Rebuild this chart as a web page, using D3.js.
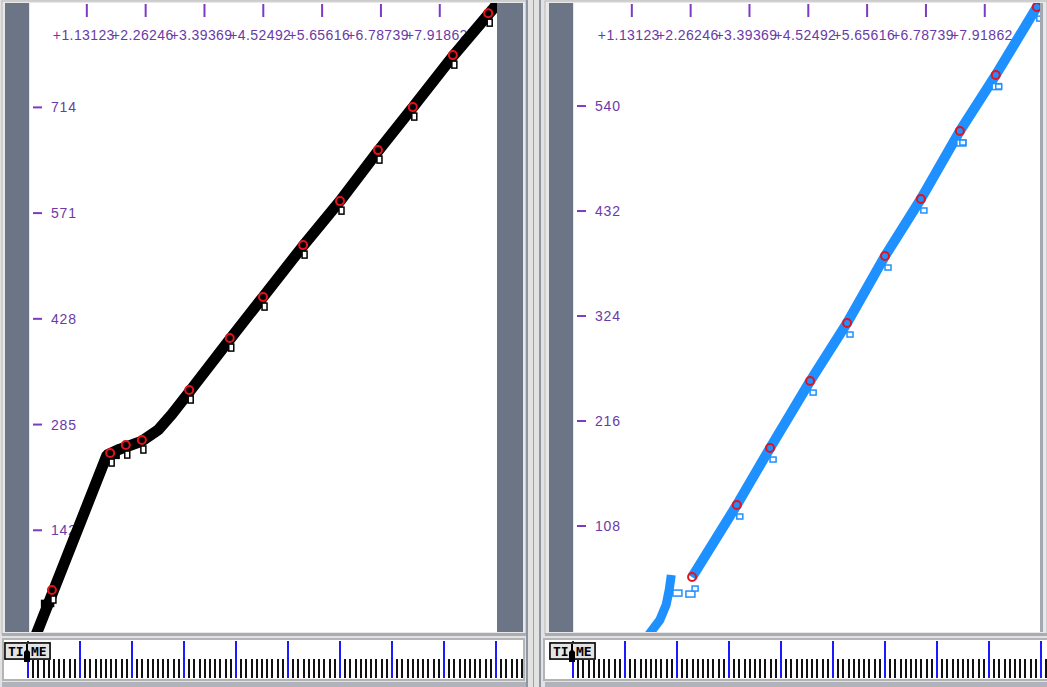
<!DOCTYPE html>
<html><head><meta charset="utf-8">
<script src="https://cdn.jsdelivr.net/npm/d3@7"></script>
<style>html,body{margin:0;padding:0;background:#e2e2e2;overflow:hidden}</style>
</head><body>
<svg id="c" width="1047" height="687"></svg>
<script>
// ---- data ----
const topTickValues = [1.13123, 2.26246, 3.39369, 4.52492, 5.65616, 6.78739, 7.91862];
const topTickLabels = ["+1.13123","+2.26246","+3.39369","+4.52492","+5.65616","+6.78739","+7.91862"];
const leftYTickValues = [142.8, 285.6, 428.4, 571.2, 714];
const leftYTickLabels = ["142","285","428","571","714"];
const rightYTickValues = [108, 216, 324, 432, 540];
const rightYTickLabels = ["108","216","324","432","540"];
const rulerSeconds = [0,1,2,3,4,5,6,7,8,9];

const blackBandTime = [0.115, 1.519, 1.769, 2.192, 2.50, 2.769, 3.115, 3.885, 4.519, 5.288, 6.00, 6.731, 7.404, 8.173, 8.923, 9.077];
const blackBandSeq  = [-5.4, 244.4, 252.5, 263.3, 278.2, 299.8, 330.9, 401.1, 457.8, 526.7, 587.4, 655.0, 714.4, 783.3, 845.4, 858.9];
const blackMarkTime = [0.46, 1.58, 1.88, 2.19, 3.10, 3.88, 4.52, 5.29, 6.00, 6.73, 7.40, 8.17, 8.85];
const blackMarkSeq  = [62.1, 247.1, 257.9, 264.7, 332.2, 402.4, 457.8, 528.0, 587.4, 656.3, 714.4, 784.6, 841.3];
const blackStubTime = [0.30, 1.56];
const blackStubSeq  = [44.0, 244.0];

const blueLowTime = [1.44, 1.67, 1.79, 1.85, 1.89];
const blueLowSeq  = [-5, 11.3, 26.7, 42.2, 57.6];
const blueBandTime = [2.29, 3.15, 3.79, 4.56, 5.27, 6.00, 6.69, 7.44, 8.13, 8.92, 9.05];
const blueBandSeq  = [55.5, 129.6, 188.2, 257.1, 316.8, 385.7, 444.4, 514.3, 571.9, 641.8, 655];
const blueMarkTime = [2.29, 3.15, 3.79, 4.56, 5.27, 6.00, 6.69, 7.44, 8.13, 8.92];
const blueMarkSeq  = [55.5, 129.6, 188.2, 257.1, 316.8, 385.7, 444.4, 514.3, 571.9, 641.8];
const blueStubTime = [1.96, 2.21, 7.42, 8.10];
const blueStubSeq  = [39.0, 38.0, 502.0, 560.0];

// ---- drawing ----
const svg = d3.select("#c");
const PURPLE = "#7a3cc0", TXT = "#6a3aa8", SLATE = "#6b7586";
const FONT = "'Liberation Sans', Arial, sans-serif";

svg.append("rect").attr("width",1047).attr("height",687).attr("fill","#e2e2e2");

function panel(cfg){
  const g = svg.append("g");
  const x = d3.scaleLinear().domain([0,9]).range([cfg.x0, cfg.x0 + 468]);
  const y = d3.scaleLinear().domain([0, cfg.yMax]).range([cfg.yZero, 3]);
  g.append("rect").attr("x",cfg.frameX).attr("y",1).attr("width",cfg.frameW).attr("height",633)
    .attr("fill","#e8e8e8").attr("stroke","#b8b8b8");
  g.append("rect").attr("x",cfg.plotL).attr("y",3).attr("width",cfg.plotR-cfg.plotL).attr("height",629).attr("fill","#fff");
  g.append("rect").attr("x",cfg.plotL-25).attr("y",3).attr("width",24).attr("height",629).attr("fill",SLATE);
  if (cfg.rightBar) g.append("rect").attr("x",cfg.plotR).attr("y",3).attr("width",26).attr("height",629).attr("fill",SLATE);
  else g.append("rect").attr("x",cfg.plotR).attr("y",3).attr("width",3).attr("height",629).attr("fill","#a4a9b1");

  const clipId = "clip"+cfg.id;
  svg.append("clipPath").attr("id",clipId).append("rect")
    .attr("x",cfg.plotL).attr("y",3).attr("width",cfg.plotR-cfg.plotL).attr("height",629);
  const pg = g.append("g").attr("clip-path",`url(#${clipId})`);

  pg.selectAll(null).data(topTickValues).join("line")
    .attr("x1",d=>x(d)).attr("x2",d=>x(d)).attr("y1",4).attr("y2",17)
    .attr("stroke",PURPLE).attr("stroke-width",2);
  pg.selectAll(null).data(topTickValues).join("text")
    .attr("x",d=>x(d)-3).attr("y",40).attr("text-anchor","middle")
    .attr("font-family",FONT).attr("font-size",14).attr("letter-spacing",0.4).attr("fill",TXT)
    .text((d,i)=>topTickLabels[i]);
  pg.selectAll(null).data(cfg.yTicks).join("line")
    .attr("x1",cfg.plotL+3).attr("x2",cfg.plotL+12).attr("y1",d=>y(d)).attr("y2",d=>y(d))
    .attr("stroke",PURPLE).attr("stroke-width",2);
  pg.selectAll(null).data(cfg.yTicks).join("text")
    .attr("x",cfg.plotL+21).attr("y",d=>y(d)+5)
    .attr("font-family",FONT).attr("font-size",14).attr("letter-spacing",0.8).attr("fill",TXT)
    .text((d,i)=>cfg.yLabels[i]);

  const line = d3.line().x(d=>x(d[0])).y(d=>y(d[1]));
  cfg.bands.forEach(b=>{
    pg.append("path").attr("d",line(d3.zip(b.t,b.v))).attr("fill","none")
      .attr("stroke",cfg.color).attr("stroke-width",b.w).attr("stroke-linejoin","bevel");
  });
  pg.selectAll(null).data(d3.zip(cfg.stubT,cfg.stubV)).join("rect")
    .attr("x",d=>x(d[0])-2).attr("y",d=>y(d[1])-3).attr("width",cfg.stubW).attr("height",6)
    .attr("fill",cfg.stubFill).attr("stroke",cfg.color).attr("stroke-width",1.5);
  const marks = d3.zip(cfg.markT,cfg.markV);
  pg.selectAll(null).data(marks).join("rect")
    .attr("x",d=>x(d[0])+cfg.boxDx).attr("y",d=>y(d[1])+cfg.boxDy).attr("width",cfg.boxW).attr("height",cfg.boxH)
    .attr("fill","#fff").attr("stroke",cfg.color).attr("stroke-width",1.5);
  pg.selectAll(null).data(marks).join("circle")
    .attr("cx",d=>x(d[0])).attr("cy",d=>y(d[1])).attr("r",4)
    .attr("fill","none").attr("stroke","#e5121a").attr("stroke-width",2);

  g.append("rect").attr("x",cfg.frameX).attr("y",633).attr("width",cfg.frameW).attr("height",3).attr("fill","#a9adb3");
  g.append("rect").attr("x",cfg.rulerX).attr("y",639).attr("width",cfg.rulerW).attr("height",41)
    .attr("fill","#fff").attr("stroke","#b4b4b4").attr("stroke-width",2);
  g.append("rect").attr("x",cfg.frameX).attr("y",682).attr("width",cfg.frameW).attr("height",5).attr("fill","#b0b4ba");
  const rclip = "rclip"+cfg.id;
  svg.append("clipPath").attr("id",rclip).append("rect")
    .attr("x",cfg.rulerX+1).attr("y",640).attr("width",cfg.rulerW-2).attr("height",39);
  const rg = g.append("g").attr("clip-path",`url(#${rclip})`);
  const minors = [];
  rulerSeconds.forEach(s=>{ for(let k=1;k<10;k++) minors.push(s+k/10); });
  rg.selectAll(null).data(minors).join("line")
    .attr("x1",d=>Math.round(x(d))).attr("x2",d=>Math.round(x(d))).attr("y1",659).attr("y2",678)
    .attr("stroke","#111").attr("stroke-width",2);
  rg.selectAll(null).data(rulerSeconds).join("line")
    .attr("x1",d=>x(d)).attr("x2",d=>x(d)).attr("y1",641).attr("y2",678)
    .attr("stroke","#1a1aff").attr("stroke-width",2);
  const tx = cfg.x0 - 23;
  rg.append("rect").attr("x",tx-1).attr("y",642).attr("width",47).attr("height",18).attr("fill","#9a9a9a");
  rg.append("rect").attr("x",tx).attr("y",643).attr("width",45).attr("height",16)
    .attr("fill","#e4e4e4").attr("stroke","#000").attr("stroke-width",1.5);
  rg.append("text").attr("x",tx+3).attr("y",656).attr("font-family","'DejaVu Sans Mono', monospace")
    .attr("font-weight","bold").attr("font-size",13).attr("fill","#000").text("TI");
  rg.append("text").attr("x",tx+26).attr("y",656).attr("font-family","'DejaVu Sans Mono', monospace")
    .attr("font-weight","bold").attr("font-size",13).attr("fill","#000").text("ME");
  const px = cfg.x0 - 1;
  rg.append("path").attr("fill","#000")
    .attr("d",`M${px-1},644 L${px+1},644 L${px+1},650 L${px+3},652 L${px+3},662 L${px-3},662 L${px-3},652 L${px-1},650 Z`);
}

panel({id:"L", x0:28, frameX:2, frameW:524, plotL:30, plotR:497, rightBar:true,
  yMax:855, yZero:636, yTicks:leftYTickValues, yLabels:leftYTickLabels, color:"#000",
  bands:[{t:blackBandTime, v:blackBandSeq, w:11}],
  stubT:blackStubTime, stubV:blackStubSeq, stubW:12, stubFill:"#000",
  markT:blackMarkTime, markV:blackMarkSeq, boxDx:-1, boxDy:6, boxW:5, boxH:7,
  rulerX:3, rulerW:521});

svg.append("rect").attr("x",526).attr("y",0).attr("width",2).attr("height",687).attr("fill","#8d96a3");
svg.append("rect").attr("x",533).attr("y",0).attr("width",1).attr("height",687).attr("fill","#9aa2ad");
svg.append("rect").attr("x",539).attr("y",0).attr("width",2).attr("height",687).attr("fill","#8d96a3");

panel({id:"R", x0:573, frameX:545, frameW:502, plotL:574, plotR:1040, rightBar:false,
  yMax:646, yZero:631, yTicks:rightYTickValues, yLabels:rightYTickLabels, color:"#1e90ff",
  bands:[{t:blueLowTime, v:blueLowSeq, w:9},{t:blueBandTime, v:blueBandSeq, w:10}],
  stubT:blueStubTime, stubV:blueStubSeq, stubW:9, stubFill:"#fff",
  markT:blueMarkTime, markV:blueMarkSeq, boxDx:0, boxDy:9, boxW:6, boxH:5,
  rulerX:544, rulerW:505});
</script>
</body></html>
